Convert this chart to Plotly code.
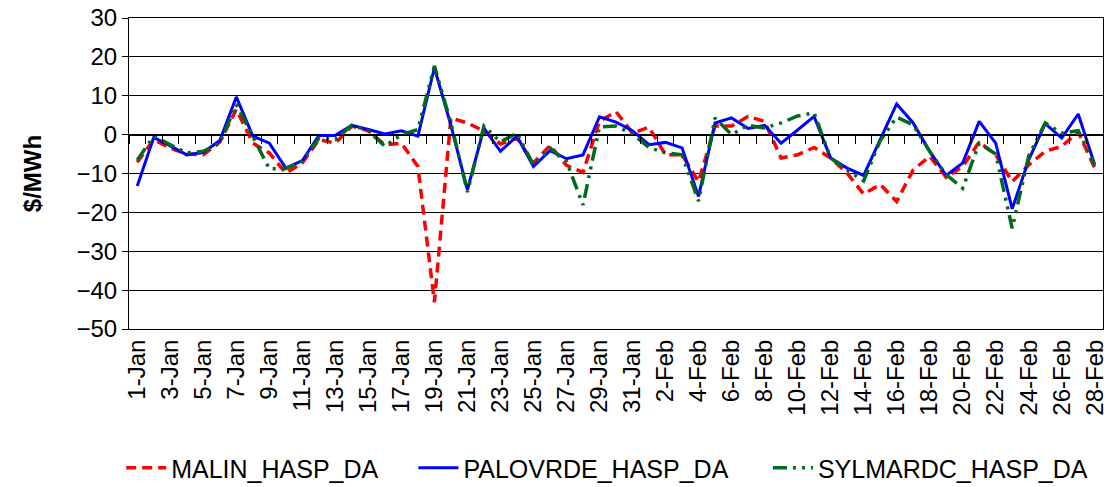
import pandas as pd
import plotly.graph_objects as go

dates = pd.date_range("2009-01-01", "2009-02-28", freq="D")
categories = [f"{d.day}-{d.strftime('%b')}" for d in dates]

malin = [-7.1, -1.3, -3.5, -5.0, -5.2, -1.9, 6.5, -2.2, -4.7, -9.9,
         -7.3, -1.3, -2.2, 2.2, 1.0, -2.6, -2.2, -8.2, -43.1, 4.3,
         3.0, 0.9, -2.4, -0.9, -7.3, -2.8, -7.9, -9.7, 3.4, 5.9,
         0.4, 1.9, -5.2, -5.2, -12.1, 2.2, 2.2, 4.7, 3.4, -6.0,
         -5.2, -3.3, -6.0, -9.9, -15.3, -12.8, -17.2, -9.1, -5.6, -11.0,
         -8.2, -1.9, -5.2, -12.1, -7.8, -4.3, -3.0, 0.7, -8.6]

palovrde = [-13.2, -0.7, -2.9, -5.2, -4.6, -1.5, 9.7, -0.4, -2.2, -8.6,
            -6.7, -0.2, -0.2, 2.4, 1.3, 0.2, 1.0, -0.4, 17.2, 2.4,
            -14.2, 1.7, -4.3, -0.4, -8.2, -4.1, -6.2, -5.2, 4.6, 3.2,
            1.0, -2.6, -2.0, -3.4, -15.9, 3.0, 4.3, 1.6, 2.4, -2.2,
            1.2, 4.7, -6.0, -8.6, -10.5, -1.3, 7.9, 3.0, -4.3, -10.5,
            -7.3, 3.4, -2.2, -19.1, -6.5, 2.8, -0.9, 5.3, -7.8]

sylmardc = [-6.5, -0.4, -2.6, -4.7, -4.3, -2.2, 7.8, -0.4, -8.8, -8.7,
            -6.9, -0.9, -1.3, 2.4, 1.0, -3.0, 0.0, 1.3, 17.7, 3.0,
            -14.8, 2.2, -1.9, 0.4, -7.8, -3.4, -6.9, -18.1, 2.0, 2.2,
            0.2, -3.3, -4.7, -5.2, -17.1, 4.3, 0.0, 2.4, 1.7, 3.0,
            4.8, 5.6, -6.0, -9.1, -11.9, -1.6, 4.5, 2.5, -4.3, -10.3,
            -13.8, -2.2, -5.0, -24.1, -5.5, 3.0, 0.4, 1.0, -7.8]

series_names = ["MALIN_HASP_DA", "PALOVRDE_HASP_DA", "SYLMARDC_HASP_DA"]
y_ticks = [30, 20, 10, 0, -10, -20, -30, -40, -50]

FONT = "Liberation Sans, Arial, sans-serif"
FS = 24
n = len(categories)
x_range = [-0.5, n - 0.5]

fig = go.Figure()
fig.add_trace(go.Scatter(x=categories, y=malin, name=series_names[0], mode="lines",
                         legend="legend",
                         line=dict(color="#FF0000", width=3.5, dash="10px,6px")))
fig.add_trace(go.Scatter(x=categories, y=palovrde, name=series_names[1], mode="lines",
                         legend="legend2",
                         line=dict(color="#0000FF", width=3)))
fig.add_trace(go.Scatter(x=categories, y=sylmardc, name=series_names[2], mode="lines",
                         legend="legend3",
                         line=dict(color="#006A1E", width=3.5,
                                   dash="14px,6px,3px,6px,3px,6px")))
# invisible trace to host the category axis that crosses at zero
fig.add_trace(go.Scatter(x=categories, y=[0] * n, xaxis="x2",
                         mode="lines", line=dict(width=0), showlegend=False,
                         hoverinfo="skip"))

leg_common = dict(orientation="h", xanchor="left", y=-0.447, yanchor="middle",
                  font=dict(size=25), itemwidth=40, bgcolor="rgba(0,0,0,0)")

fig.update_layout(
    width=1112, height=487,
    margin=dict(l=129, r=9, t=18, b=158, autoexpand=False),
    paper_bgcolor="white", plot_bgcolor="white",
    font=dict(family=FONT, size=FS, color="black"),
    showlegend=True,
    legend=dict(x=-0.008, **leg_common),
    legend2=dict(x=0.292, **leg_common),
    legend3=dict(x=0.656, **leg_common),
    xaxis=dict(type="category", categoryorder="array", categoryarray=categories,
               range=x_range,
               tickmode="array", tickvals=categories[::2], ticktext=categories[::2],
               tickangle=-90, ticks="", showgrid=False, showline=True,
               linecolor="black", linewidth=1, mirror=True, zeroline=False,
               automargin=False, tickfont=dict(size=FS)),
    xaxis2=dict(type="category", categoryorder="array", categoryarray=categories,
                range=x_range, overlaying="x", anchor="free", position=0.625,
                side="bottom", tickmode="linear", tick0=0, dtick=1,
                showticklabels=False, ticks="outside", tickson="boundaries",
                ticklen=8, tickcolor="black", tickwidth=1, showline=True,
                linecolor="black", linewidth=1, showgrid=False, zeroline=False),
    yaxis=dict(range=[-50, 30], tickmode="array", tickvals=y_ticks,
               ticks="outside", ticklen=6, tickcolor="black", showgrid=True,
               gridcolor="black", gridwidth=1, zeroline=True, zerolinecolor="black",
               zerolinewidth=1, showline=True, linecolor="black", linewidth=1,
               mirror=True, tickfont=dict(size=FS), automargin=False,
               title=dict(text="<b>$/MWh</b>", font=dict(size=FS), standoff=28)),
)

fig.write_html("out.html", config={"displayModeBar": False},
               post_script="document.body.style.margin='0';document.body.style.overflow='hidden';")
